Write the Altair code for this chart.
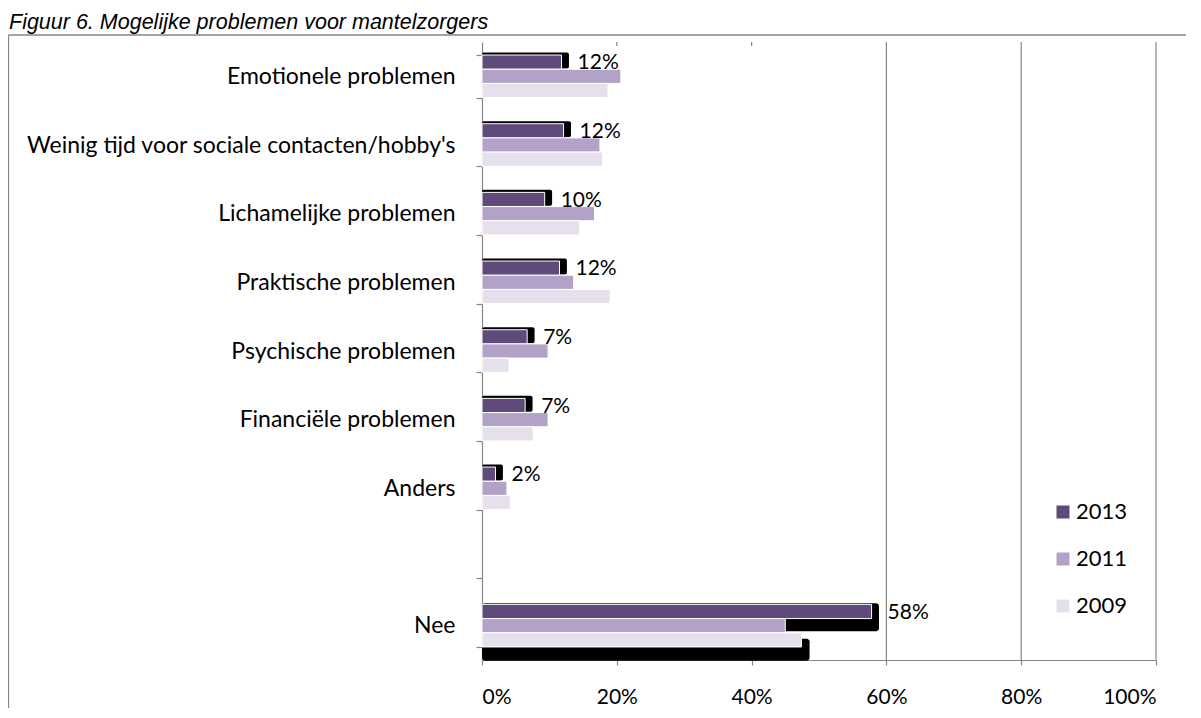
import altair as alt
import pandas as pd

# ---------------- data ----------------
categories = [
    "Emotionele problemen",
    "Weinig tijd voor sociale contacten/hobby's",
    "Lichamelijke problemen",
    "Praktische problemen",
    "Psychische problemen",
    "Financiële problemen",
    "Anders",
    " ",
    "Nee",
]
v2013 = [11.8, 12.1, 9.3, 11.5, 6.7, 6.4, 2.0, None, 57.8]
v2011 = [20.6, 17.5, 16.7, 13.6, 9.8, 9.8, 3.7, None, 45.0]
v2009 = [18.7, 17.9, 14.5, 19.0, 4.0, 7.6, 4.2, None, 47.4]
labels2013 = ["12%", "12%", "10%", "12%", "7%", "7%", "2%", "", "58%"]
series = ["2013", "2011", "2009"]
colors = ["#604a7b", "#b3a2c7", "#e6e0ec"]
x_ticks = [0, 0.2, 0.4, 0.6, 0.8, 1.0]
grid_full = [0.6, 0.8, 1.0]
grid_stub = [0.2, 0.4]
title_text = "Figuur 6. Mogelijke problemen voor mantelzorgers"

rows = []
for i, c in enumerate(categories):
    for s, vals in zip(series, [v2013, v2011, v2009]):
        if vals[i] is not None:
            rows.append({"cat": c, "series": s, "value": vals[i] / 100.0})
df = pd.DataFrame(rows)

lab = pd.DataFrame(
    [{"cat": c, "value": v / 100.0, "label": l}
     for c, v, l in zip(categories, v2013, labels2013) if v is not None]
)

W, H = 674, 618
GRAY = "#868686"
FONT = "Lato"
FS = 21

yscale = alt.Scale(domain=categories, paddingInner=0.38, paddingOuter=0.19)
xscale = alt.Scale(domain=[0, 1])

xaxis = alt.Axis(
    title=None, values=x_ticks, format=".0%", grid=False,
    labelFont=FONT, labelFontSize=FS, labelColor="black",
    tickColor=GRAY, tickSize=5, tickWidth=1.2,
    domainColor=GRAY, domainWidth=1.2, labelPadding=21,
)
yaxis = alt.Axis(
    title=None, tickBand="extent", labelFont=FONT, labelFontSize=23,
    labelColor="black", tickColor=GRAY, tickSize=6, tickWidth=1.2,
    domainColor=GRAY, domainWidth=1.2, labelPadding=21, labelLimit=600,
)
X = lambda f: alt.X(f, scale=xscale, axis=xaxis, stack=None)
Y = lambda f: alt.Y(f, scale=yscale, axis=yaxis, sort=categories)
ZERO = alt.X2(datum=0)

# ---------------- decorations ----------------
one = pd.DataFrame({"t": [title_text]})
frame_left = alt.Chart(one).mark_rule(color=GRAY, strokeWidth=1.3).encode(
    x=alt.value(-473.5), y=alt.value(-7), y2=alt.value(H + 52)
)
frame_top = alt.Chart(one).mark_rule(color=GRAY, strokeWidth=1.3).encode(
    x=alt.value(-473.5), x2=alt.value(W + 30), y=alt.value(-7)
)
title = alt.Chart(one).mark_text(
    align="left", baseline="alphabetic", font="Liberation Sans",
    fontStyle="italic", fontSize=21.5, color="black"
).encode(x=alt.value(-473), y=alt.value(-13), text="t:N")

gfull = alt.Chart(pd.DataFrame({"g": grid_full})).mark_rule(
    color=GRAY, strokeWidth=1.2
).encode(x=X("g:Q"), y=alt.value(0), y2=alt.value(H))
gstub = alt.Chart(pd.DataFrame({"g": grid_stub})).mark_rule(
    color=GRAY, strokeWidth=1.2
).encode(x=X("g:Q"), y=alt.value(0), y2=alt.value(4))

# ---------------- shadows (drop-shadow effect of the original) ----------------
base13 = alt.Chart(df).transform_filter(alt.datum.series == "2013").transform_calculate(
    send="datum.value + 0.011"
)
shadow = base13.transform_filter(alt.datum.cat != "Nee").mark_bar(
    color="black", height=16, yOffset=-15.8, cornerRadiusEnd=2
).encode(x=X("send:Q"), x2=ZERO, y=Y("cat:N"))
shadow_nee13 = base13.transform_filter(alt.datum.cat == "Nee").mark_bar(
    color="black", height=28, yOffset=-8.5, cornerRadiusEnd=3
).encode(x=X("send:Q"), x2=ZERO, y=Y("cat:N"))
shadow_nee09 = alt.Chart(df).transform_filter(
    (alt.datum.series == "2009") & (alt.datum.cat == "Nee")
).transform_calculate(send="datum.value + 0.012").mark_bar(
    color="black", height=22, yOffset=24, cornerRadiusEnd=3
).encode(x=X("send:Q"), x2=ZERO, y=Y("cat:N"))

# ---------------- bars ----------------
bars = alt.Chart(df).mark_bar(stroke="white", strokeWidth=1).encode(
    x=X("value:Q"),
    y=Y("cat:N"),
    yOffset=alt.YOffset("series:N", sort=series, scale=alt.Scale(paddingInner=0)),
    color=alt.Color(
        "series:N",
        scale=alt.Scale(domain=series, range=colors),
        legend=alt.Legend(
            title=None, orient="none", legendX=570, legendY=459,
            symbolType="square", symbolSize=169, symbolStrokeWidth=0,
            labelFont=FONT, labelFontSize=22, labelColor="black",
            rowPadding=25, labelOffset=2,
        ),
    ),
)

labels = alt.Chart(lab).mark_text(
    align="left", baseline="middle", dx=16, dy=-13,
    font=FONT, fontSize=FS, color="black"
).encode(x=X("value:Q"), y=Y("cat:N"), text="label:N")

chart = alt.layer(
    frame_left, frame_top, title, gfull, gstub,
    shadow, shadow_nee13, shadow_nee09, bars, labels,
).properties(
    width=W, height=H,
    autosize=alt.AutoSizeParams(type="none"),
    padding={"left": 474, "top": 34, "right": 30, "bottom": 48},
).configure_view(stroke=None)

chart.save("out.html", embed_options={"renderer": "svg", "actions": False})
